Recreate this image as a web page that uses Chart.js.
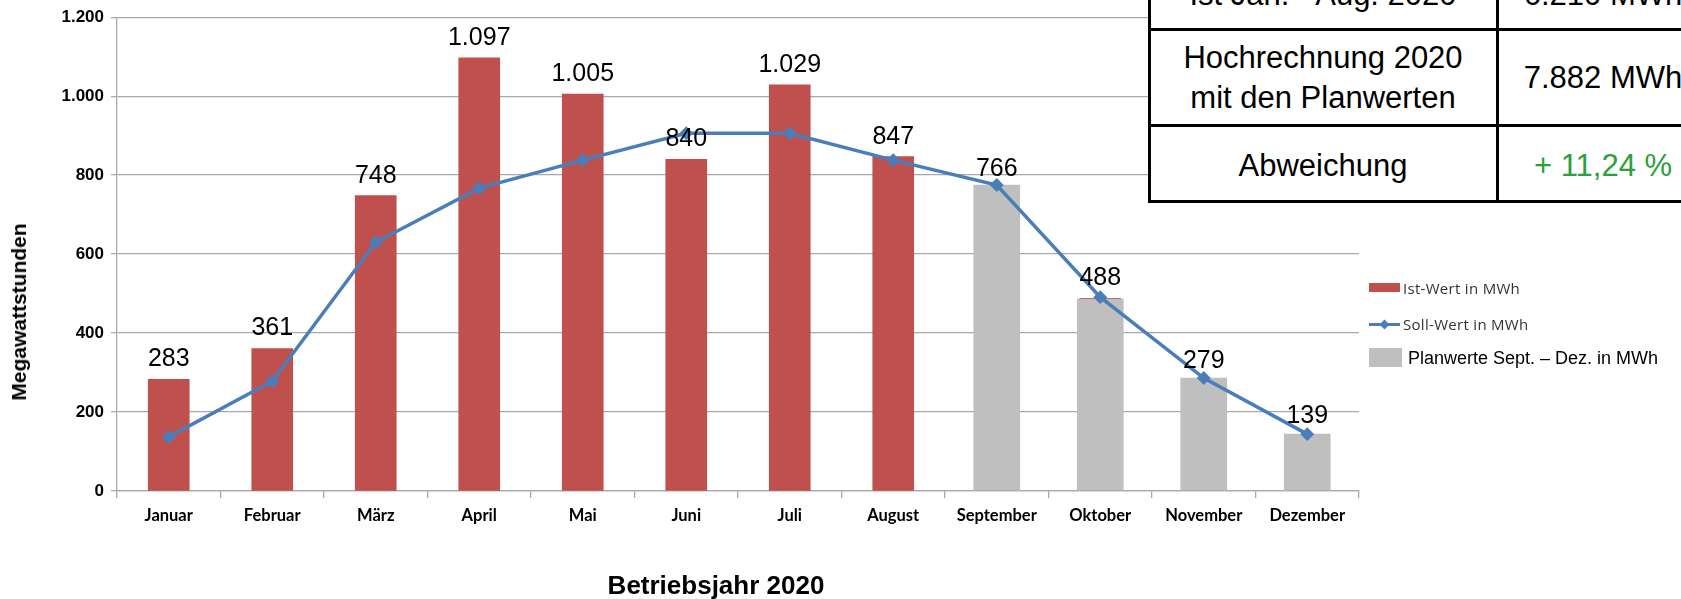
<!DOCTYPE html>
<html lang="de">
<head>
<meta charset="UTF-8">
<title>Betriebsjahr 2020</title>
<script src="https://cdn.jsdelivr.net/npm/chart.js"></script>
<style>
    body { margin: 0; background: #fff; font-family: "Liberation Sans", Arial, sans-serif; }
    #wrap { position: relative; width: 1681px; height: 599px; overflow: hidden; }
    canvas { position: absolute; left: 0; top: 0; }
    .abs { position: absolute; white-space: nowrap; }
    .ytitle { left: 19px; top: 312px; font-weight: bold; font-size: 21px; transform: translate(-50%, -50%) rotate(-90deg); }
    .xtitle { left: 716px; top: 570px; font-weight: bold; font-size: 26px; transform: translateX(-50%); line-height: 30px; }
    /* Tabelle oben rechts */
    .box { left: 1148px; top: -50px; width: 600px; height: 253px; border: 3px solid #000; box-sizing: border-box; background: #fff; }
    .hl { height: 3px; background: #000; }
    .vl { width: 3px; background: #000; }
    .cell { font-size: 31px; line-height: 40px; text-align: center; color: #000; transform: translateX(-50%); }
    .gruen { color: #2ca03a; }
    /* Legende */
    .lg1 { font-family: "Open Sans", sans-serif; font-size: 15px; letter-spacing: 0.3px; color: #333; line-height: 20px; }
    .lg2 { font-size: 18px; color: #000; line-height: 22px; }
</style>
</head>
<body>
<div id="wrap">
    <canvas id="chart" width="1681" height="599"></canvas>
    <div class="abs ytitle">Megawattstunden</div>
    <div class="abs xtitle">Betriebsjahr 2020</div>
    <div id="tabelle"></div>
    <div id="legende"></div>
</div>

<script>
    // Daten
    const monate = ['Januar', 'Februar', 'März', 'April', 'Mai', 'Juni', 'Juli', 'August',
                    'September', 'Oktober', 'November', 'Dezember'];
    const istWerte = [283, 361, 748, 1097, 1005, 840, 1029, 847, 766, 488, 279, 139];
    const sollWerte = [137, 278, 630, 767, 838, 906, 906, 838, 775, 491, 286, 144];
    const planWerte = [null, null, null, null, null, null, null, null, 775, 486, 286, 144];
    const yTicks = [0, 200, 400, 600, 800, 1000, 1200];

    const tabelleLinks = ['Ist Jan. - Aug. 2020', 'Hochrechnung 2020<br>mit den Planwerten', 'Abweichung'];
    const tabelleRechts = ['6.210 MWh', '7.882 MWh', '+ 11,24 %'];
    const legendeTexte = ['Ist-Wert in MWh', 'Soll-Wert in MWh', 'Planwerte Sept. – Dez. in MWh'];

    const ROT = '#c0504d', BLAU = '#4a7ebb', GRAU = '#bfbfbf', GITTER = '#a9a9a9';

    function deZahl(v) {
        return String(v).replace(/\B(?=(\d{3})+(?!\d))/g, '.');
    }

    // Werte über den Ist-Balken
    const wertLabels = {
        id: 'wertLabels',
        afterDatasetsDraw(chart) {
            const ctx = chart.ctx;
            const meta = chart.getDatasetMeta(0);
            ctx.save();
            ctx.font = '25px "Liberation Sans", Arial, sans-serif';
            ctx.fillStyle = '#000';
            ctx.textAlign = 'center';
            ctx.textBaseline = 'alphabetic';
            meta.data.forEach((bar, i) => {
                ctx.fillText(deZahl(istWerte[i]), bar.x, bar.y - 13);
            });
            ctx.restore();
        }
    };

    new Chart(document.getElementById('chart'), {
        type: 'bar',
        data: {
            labels: monate,
            datasets: [
                {
                    label: legendeTexte[0],
                    data: istWerte,
                    backgroundColor: ROT,
                    barThickness: 41,
                    grouped: false,
                    order: 2
                },
                {
                    label: legendeTexte[2],
                    data: planWerte,
                    backgroundColor: GRAU,
                    barThickness: 46,
                    grouped: false,
                    order: 1
                },
                {
                    type: 'line',
                    label: legendeTexte[1],
                    data: sollWerte,
                    borderColor: BLAU,
                    backgroundColor: BLAU,
                    borderWidth: 3.5,
                    pointStyle: 'rectRot',
                    pointRadius: 4.5,
                    tension: 0,
                    order: 0
                }
            ]
        },
        options: {
            responsive: false,
            animation: false,
            layout: { padding: { left: 0, top: 17, right: 322, bottom: 0 } },
            plugins: { legend: { display: false }, tooltip: { enabled: false } },
            scales: {
                x: {
                    afterFit(scale) { scale.height = 108; },
                    grid: { drawOnChartArea: false, drawTicks: true, tickLength: 7, color: GITTER, lineWidth: 1.3 },
                    border: { color: GITTER, width: 1.3 },
                    ticks: {
                        padding: 8,
                        color: '#000',
                        font: { family: 'Lato', weight: 'bold', size: 16.5 }
                    }
                },
                y: {
                    min: yTicks[0],
                    max: yTicks[yTicks.length - 1],
                    afterFit(scale) { scale.width = 117; },
                    afterBuildTicks(scale) { scale.ticks = yTicks.map(v => ({ value: v })); },
                    grid: { color: GITTER, lineWidth: 1.3, tickLength: 6 },
                    border: { color: GITTER, width: 1.3 },
                    ticks: {
                        padding: 7,
                        color: '#000',
                        font: { family: '"Liberation Sans", Arial', weight: 'bold', size: 17 },
                        callback: v => deZahl(v)
                    }
                }
            }
        },
        plugins: [wertLabels]
    });

    // Tabelle (Hochrechnung)
    (function () {
        const t = document.getElementById('tabelle');
        let html = '<div class="abs box"></div>' +
            '<div class="abs hl" style="left:1148px;top:28px;width:600px"></div>' +
            '<div class="abs hl" style="left:1148px;top:124px;width:600px"></div>' +
            '<div class="abs vl" style="left:1496px;top:-50px;height:253px"></div>';
        const topsLinks = [-25, 38, 146];
        const topsRechts = [-25, 58, 146];
        tabelleLinks.forEach((s, i) => {
            html += '<div class="abs cell" style="left:1323px;top:' + topsLinks[i] + 'px">' + s + '</div>';
        });
        tabelleRechts.forEach((s, i) => {
            const cls = i === 2 ? 'abs cell gruen' : 'abs cell';
            html += '<div class="' + cls + '" style="left:1603px;top:' + topsRechts[i] + 'px">' + s + '</div>';
        });
        t.innerHTML = html;
    })();

    // Legende
    (function () {
        const l = document.getElementById('legende');
        l.innerHTML =
            '<div class="abs" style="left:1369px;top:283px;width:31px;height:9px;background:' + ROT + '"></div>' +
            '<div class="abs lg1" style="left:1403px;top:278px">' + legendeTexte[0] + '</div>' +
            '<div class="abs" style="left:1369px;top:323px;width:31px;height:3px;background:' + BLAU + '"></div>' +
            '<div class="abs" style="left:1381px;top:321px;width:7px;height:7px;background:' + BLAU + ';transform:rotate(45deg)"></div>' +
            '<div class="abs lg1" style="left:1403px;top:314px">' + legendeTexte[1] + '</div>' +
            '<div class="abs" style="left:1369px;top:348px;width:33px;height:19px;background:' + GRAU + '"></div>' +
            '<div class="abs lg2" style="left:1408px;top:347px">' + legendeTexte[2] + '</div>';
    })();
</script>
</body>
</html>
